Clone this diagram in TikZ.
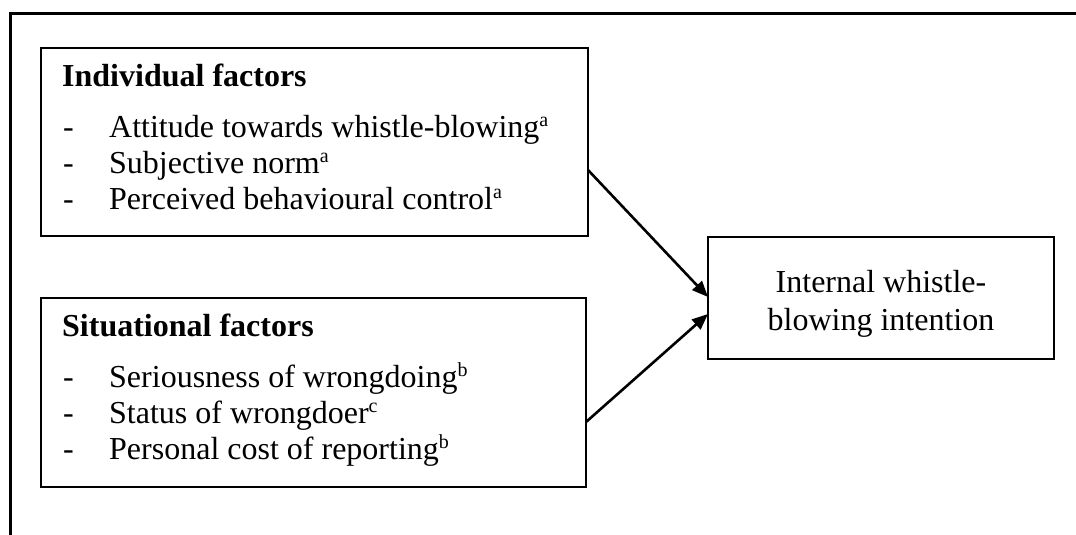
\documentclass[tikz,border=0pt]{standalone}
\usepackage{fontspec}
\setmainfont{Liberation Serif}
\usetikzlibrary{arrows.meta}
\newcommand{\supr}[1]{\raisebox{11pt}{\fontsize{20}{20}\selectfont #1}}
\begin{document}
\begin{tikzpicture}[x=1pt,y=-1pt,
  box/.style={draw,line width=2.2pt,inner sep=0pt,outer sep=0pt},
  txt/.style={anchor=base west,inner sep=0pt,font=\fontsize{32}{36}\selectfont},
  ctxt/.style={anchor=base,inner sep=0pt,align=center,font=\fontsize{32}{38}\selectfont},
  arr/.style={line width=2.6pt,-{Triangle[length=16pt,width=13pt]}}]
\useasboundingbox (0,0) rectangle (1076,535);
% outer frame (top and left sides only)
\draw[line width=3pt] (10,535) coordinate (fb) -- (10,14) coordinate (fc) -- (1076,14) coordinate (fr);
% boxes
\node[box,minimum width=547pt,minimum height=188pt] (b1) at (314.5,142) {};
\node[box,minimum width=545pt,minimum height=189pt] (b2) at (313.5,392.5) {};
\node[box,minimum width=346pt,minimum height=122pt] (b3) at (881,298) {};
% individual factors
\node[txt] (h1) at (62,86) {\textbf{Individual factors}};
\node[txt] (d11) at (63,137) {-};
\node[txt] (t11) at (109,137) {Attitude towards whistle-blowing\supr{a}};
\node[txt] (d12) at (63,173) {-};
\node[txt] (t12) at (109,173) {Subjective norm\supr{a}};
\node[txt] (d13) at (63,209) {-};
\node[txt] (t13) at (109,209) {Perceived behavioural control\supr{a}};
% situational factors
\node[txt] (h2) at (62,336) {\textbf{Situational factors}};
\node[txt] (d21) at (63,387) {-};
\node[txt] (t21) at (109,387) {Seriousness of wrongdoing\supr{b}};
\node[txt] (d22) at (63,423) {-};
\node[txt] (t22) at (109,423) {Status of wrongdoer\supr{c}};
\node[txt] (d23) at (63,459) {-};
\node[txt] (t23) at (109,459) {Personal cost of reporting\supr{b}};
% outcome
\node[ctxt] (t3) at (881,330) {Internal whistle-\\blowing intention};
% arrows
\draw[arr] ([yshift=-28pt]b1.east) -- ([yshift=1pt]b3.west);
\draw[arr] ([yshift=-29.5pt]b2.east) -- ([yshift=-16pt]b3.west);
\end{tikzpicture}
\end{document}
